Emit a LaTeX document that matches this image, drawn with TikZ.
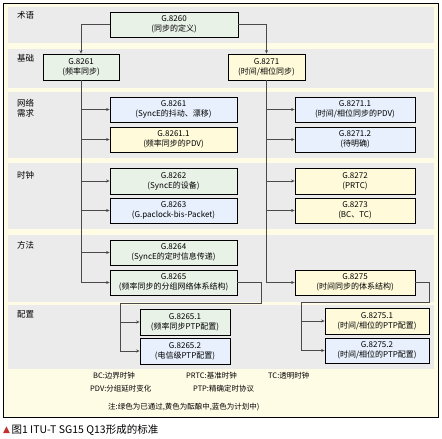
\documentclass[tikz,border=0pt]{standalone}
\usepackage{fontspec}
\setmainfont{Noto Sans CJK SC}
\newfontfamily\symfont{DejaVu Sans}
\usetikzlibrary{arrows.meta}
\definecolor{cream}{HTML}{FFFCE6}
\definecolor{bandc}{HTML}{EBEBEB}
\definecolor{gbox}{HTML}{E9F2E7}
\definecolor{ybox}{HTML}{FFFBDA}
\definecolor{bbox}{HTML}{E7F0FC}
\definecolor{lnc}{HTML}{4A4A4A}
\definecolor{capred}{HTML}{C0302F}
\tikzset{
  stdbox/.style={draw=black, line width=0.7pt, inner sep=0pt, align=center,
    font=\fontsize{8}{10}\selectfont},
  gb/.style={stdbox, fill=gbox},
  yb/.style={stdbox, fill=ybox},
  bb/.style={stdbox, fill=bbox},
  rowlab/.style={anchor=north west, inner sep=0pt, align=left, font=\fontsize{8.5}{10.5}\selectfont},
  conn/.style={draw=lnc, line width=0.8pt, -{Stealth[length=3.5pt,width=3pt]}},
  plainconn/.style={draw=lnc, line width=0.8pt},
  legend/.style={anchor=west, inner sep=0pt, font=\fontsize{7.5}{9}\selectfont}
}
\begin{document}
\begin{tikzpicture}[x=1pt,y=-1pt]
\useasboundingbox (0,0) rectangle (442,439);
\fill[white] (0,0) rectangle (442,439);
% outer frame
\draw[fill=cream, line width=0.9pt] (3,3) rectangle (438,417);
% bands
\fill[bandc] (8,7) rectangle (434,43);
\fill[bandc] (8,49) rectangle (434,88);
\fill[bandc] (8,92) rectangle (434,158);
\fill[bandc] (8,163) rectangle (434,229);
\fill[bandc] (8,235) rectangle (434,302);
\fill[bandc] (8,305) rectangle (434,369);
% row labels
\node[rowlab] (lab1) at (17,11) {术语};
\node[rowlab] (lab2) at (17,54) {基础};
\node[rowlab] (lab3) at (17,99) {网络\\需求};
\node[rowlab] (lab4) at (17,171) {时钟};
\node[rowlab] (lab5) at (17,241) {方法};
\node[rowlab] (lab6) at (17,310) {配置};
% boxes
\node[gb, minimum width=128pt, minimum height=25pt] (G8260) at (174,24.5) {G.8260\\(同步的定义)};
\node[gb, minimum width=76pt, minimum height=26pt] (G8261b) at (81,67) {G.8261\\(频率同步)};
\node[yb, minimum width=77pt, minimum height=26pt] (G8271b) at (266.5,67) {G.8271\\(时间/相位同步)};
\node[bb, minimum width=127pt, minimum height=25pt] (L1) at (173.5,109.5) {G.8261\\(SyncE的抖动、漂移)};
\node[yb, minimum width=127pt, minimum height=25pt] (L2) at (173.5,139.5) {G.8261.1\\(频率同步的PDV)};
\node[gb, minimum width=127pt, minimum height=26pt] (L3) at (173.5,181) {G.8262\\(SyncE的设备)};
\node[bb, minimum width=127pt, minimum height=25pt] (L4) at (173.5,210.5) {G.8263\\(G.paclock-bis-Packet)};
\node[gb, minimum width=127pt, minimum height=25pt] (L5) at (173.5,252.5) {G.8264\\(SyncE的定时信息传递)};
\node[gb, minimum width=127pt, minimum height=25pt] (L6) at (173.5,282.5) {G.8265\\(频率同步的分组网络体系结构)};
\node[bb, minimum width=120pt, minimum height=25pt] (R1) at (355,109.5) {G.8271.1\\(时间/相位同步的PDV)};
\node[bb, minimum width=120pt, minimum height=25pt] (R2) at (355,139.5) {G.8271.2\\(待明确)};
\node[yb, minimum width=120pt, minimum height=26pt] (R3) at (355,181) {G.8272\\(PRTC)};
\node[yb, minimum width=120pt, minimum height=25pt] (R4) at (355,210.5) {G.8273\\(BC、TC)};
\node[yb, minimum width=120pt, minimum height=25pt] (R5) at (355,282.5) {G.8275\\(时间同步的体系结构)};
\node[gb, minimum width=90pt, minimum height=26pt] (P1) at (185,322) {G.8265.1\\(频率同步PTP配置)};
\node[bb, minimum width=90pt, minimum height=26pt] (P2) at (185,351) {G.8265.2\\(电信级PTP配置)};
\node[yb, minimum width=104pt, minimum height=26pt] (Q1) at (377,321) {G.8275.1\\(时间/相位的PTP配置)};
\node[bb, minimum width=104pt, minimum height=25pt] (Q2) at (377,350.5) {G.8275.2\\(时间/相位的PTP配置)};
% connectors top
\draw[conn] (G8260.west) -| (G8261b.north);
\draw[conn] (G8260.east) -| (G8271b.north);
% left trunk
\foreach \t in {L1,L2,L3,L4,L5,L6}{\draw[conn] (G8261b.south) |- (\t.west);}
% right trunk
\foreach \t in {R1,R2,R3,R4,R5}{\draw[conn] (G8271b.south) |- (\t.west);}
% profile connectors
\coordinate (a1) at (261,282.5);
\coordinate (a2) at (261,303);
\coordinate (a3) at (120,303);
\draw[plainconn] (L6.east) -- (a1) -- (a2) -- (a3);
\draw[conn] (a3) |- (P1.west);
\draw[conn] (a3) |- (P2.west);
\coordinate (b1) at (429,282.5);
\coordinate (b2) at (429,302);
\coordinate (b3) at (301,302);
\draw[plainconn] (R5.east) -- (b1) -- (b2) -- (b3);
\draw[conn] (b3) |- (Q1.west);
\draw[conn] (b3) |- (Q2.west);
% legend
\node[legend] (lg1) at (93,376) {BC:边界时钟};
\node[legend] (lg2) at (186,376) {PRTC:基准时钟};
\node[legend] (lg3) at (268,376) {TC:透明时钟};
\node[legend] (lg4) at (90,389) {PDV:分组延时变化};
\node[legend] (lg5) at (193,389) {PTP:精确定时协议};
\node[legend] (lg6) at (108,407) {注:绿色为已通过,黄色为酝酿中,蓝色为计划中)};
% caption
\node[anchor=west, inner sep=0pt, text=capred, font=\symfont\fontsize{9}{10}\selectfont] (tri) at (3,430) {▲};
\node[anchor=west, inner sep=0pt, font=\fontsize{10.5}{12}\selectfont] (cap) at ([xshift=1pt]tri.east) {图1 ITU-T SG15 Q13形成的标准};
\end{tikzpicture}
\end{document}
